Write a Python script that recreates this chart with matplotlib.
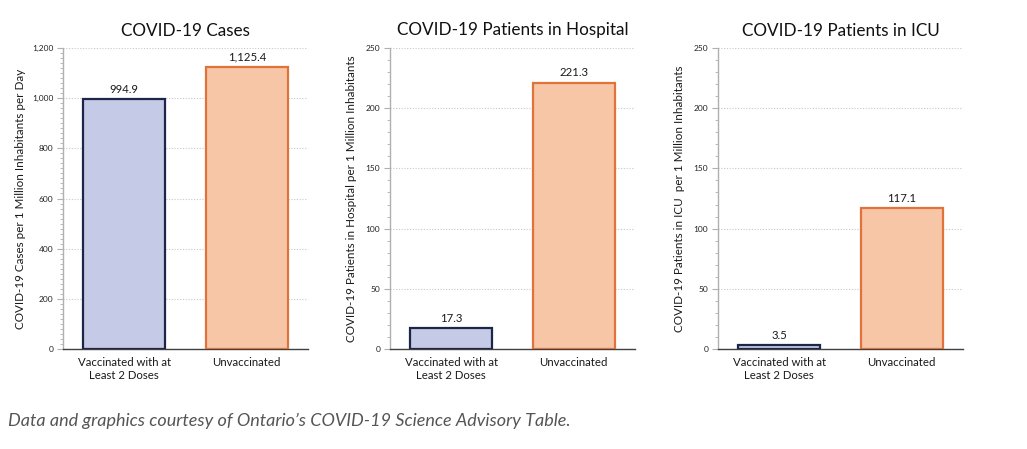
import matplotlib
matplotlib.use("Agg")
import matplotlib.pyplot as plt
from matplotlib.ticker import MultipleLocator, FuncFormatter

plt.rcParams['font.family'] = ['Lato', 'DejaVu Sans']

categories = ["Vaccinated with at\nLeast 2 Doses", "Unvaccinated"]
cases = [994.9, 1125.4]
hospital = [17.3, 221.3]
icu = [3.5, 117.1]

titles = ["COVID-19 Cases", "COVID-19 Patients in Hospital", "COVID-19 Patients in ICU"]
ylabels = ["COVID-19 Cases per 1 Million Inhabitants per Day",
           "COVID-19 Patients in Hospital per 1 Million Inhabitants",
           "COVID-19 Patients in ICU  per 1 Million Inhabitants"]
ymaxes = [1200, 250, 250]
majors = [200, 50, 50]
minors = [20, 10, 10]
label_fmt = ["{:,.1f}", "{:.1f}", "{:.1f}"]

fills = ["#c5cae6", "#f7c6a6"]
edges = ["#1c2747", "#e0733a"]

W, H = 1027, 449
fig = plt.figure(figsize=(W / 100, H / 100), dpi=100)
lefts = [63, 390, 718]
series = [cases, hospital, icu]

for i in range(3):
    ax = fig.add_axes([lefts[i] / W, 1 - 349 / H, 245 / W, 301 / H])
    vals = series[i]
    x = list(range(len(categories)))
    ax.bar(x, vals, width=0.67, color=fills, edgecolor=edges, linewidth=1.6, zorder=3)
    ax.set_xlim(-0.5, 1.5)
    ax.set_ylim(0, ymaxes[i])
    ax.yaxis.set_major_locator(MultipleLocator(majors[i]))
    ax.yaxis.set_minor_locator(MultipleLocator(minors[i]))
    ax.yaxis.set_major_formatter(FuncFormatter(lambda v, p: f"{int(v):,}"))
    ax.grid(axis='y', which='major', linestyle=(0, (1, 1.5)), color='#c8c8c8', linewidth=0.8, zorder=0)
    for s in ['top', 'right']:
        ax.spines[s].set_visible(False)
    ax.spines['left'].set_color('#b0b0b0')
    ax.spines['left'].set_linewidth(1.0)
    ax.spines['bottom'].set_color('#404040')
    ax.spines['bottom'].set_linewidth(1.0)
    ax.tick_params(axis='y', which='major', labelsize=6, length=4, color='#b0b0b0', pad=3, labelcolor='#222222')
    ax.tick_params(axis='y', which='minor', length=2, color='#b0b0b0')
    ax.tick_params(axis='x', length=0, labelsize=8.2, pad=6, labelcolor='#1a1a1a')
    ax.set_xticks(x)
    ax.set_xticklabels(categories)
    ax.set_ylabel(ylabels[i], fontsize=8.4, color='#1a1a1a', labelpad=4 if i == 0 else 6)
    ax.set_title(titles[i], fontsize=12.3, color='#111111', pad=9)
    for xi, v in zip(x, vals):
        ax.annotate(label_fmt[i].format(v), (xi, v), xytext=(0, 3), textcoords='offset points',
                    ha='center', va='bottom', fontsize=8.2, color='#1a1a1a')

fig.text(8 / W, 1 - 421 / H, "Data and graphics courtesy of Ontario\u2019s COVID-19 Science Advisory Table.",
         fontsize=13, style='italic', color='#555555', ha='left', va='center')

fig.savefig("out.png", dpi=100, facecolor='white')
